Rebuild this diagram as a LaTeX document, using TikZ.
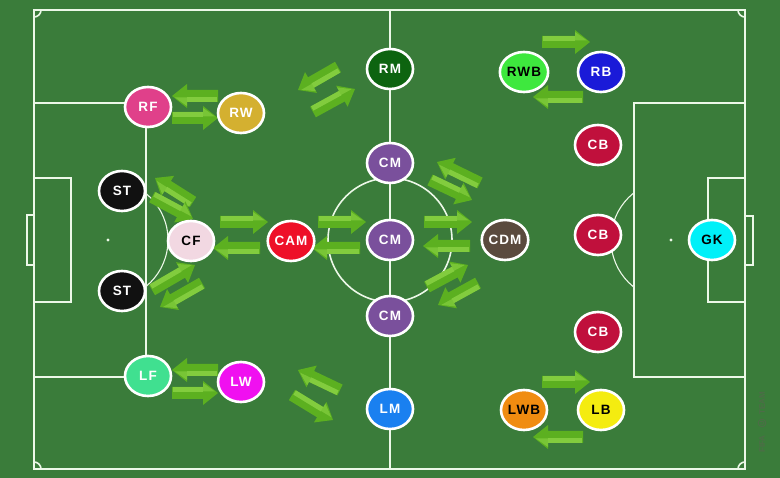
\documentclass[tikz,border=0pt]{standalone}
\usepackage{fontspec}
\setmainfont{Liberation Sans}
\newfontfamily\lblfont[LetterSpace=8]{Liberation Sans}
\usetikzlibrary{shapes.geometric}

\definecolor{pitch}{RGB}{58,124,58}
\definecolor{linec}{RGB}{236,248,232}
\definecolor{arrowgreen}{RGB}{92,176,32}
\definecolor{arrowlight}{RGB}{140,212,70}
\definecolor{wmark}{RGB}{78,108,72}
\definecolor{cRM}{RGB}{13,100,16}
\definecolor{cRWB}{RGB}{62,232,62}
\definecolor{cRB}{RGB}{26,26,216}
\definecolor{cRF}{RGB}{224,64,138}
\definecolor{cRW}{RGB}{212,176,48}
\definecolor{cCB}{RGB}{192,16,60}
\definecolor{cCM}{RGB}{122,80,156}
\definecolor{cST}{RGB}{17,17,17}
\definecolor{cCF}{RGB}{242,216,226}
\definecolor{cCAM}{RGB}{238,16,40}
\definecolor{cCDM}{RGB}{90,74,62}
\definecolor{cGK}{RGB}{0,240,248}
\definecolor{cLF}{RGB}{64,224,144}
\definecolor{cLW}{RGB}{240,16,240}
\definecolor{cLM}{RGB}{26,128,240}
\definecolor{cLWB}{RGB}{240,140,16}
\definecolor{cLB}{RGB}{244,236,16}

\tikzset{
  player/.style={ellipse, draw=white, line width=2.6pt, minimum width=46pt,
    minimum height=40pt, inner sep=0pt, text=white,
    font=\lblfont\bfseries\fontsize{13.5}{13.5}\selectfont},
  darktext/.style={text=black},
  fieldline/.style={draw=linec, line width=1.6pt},
  wmtext/.style={rotate=90, text=wmark, inner sep=0pt,
    font=\bfseries\fontsize{8}{8}\selectfont},
}

\newcommand\garrow[4]{%
  \pgfmathsetmacro\gang{atan2(-(#4-#2),#3-#1)}%
  \pgfmathsetmacro\glen{veclen(#3-#1,#4-#2)}%
  \begin{scope}[shift={(#1,#2)}, rotate=\gang]
    \fill[arrowgreen] (0,-6) -- (\glen-15,-6) -- (\glen-15,-12) -- (\glen,0)
      -- (\glen-15,12) -- (\glen-15,6) -- (0,6) -- cycle;
    \fill[arrowlight, opacity=0.8] (1,-6) -- (\glen-15,-6) -- (\glen-15,-1) -- (1,-1) -- cycle;
    \fill[arrowlight, opacity=0.6] (\glen-15,-10) -- (\glen-3,-1.5) -- (\glen-15,-1.5) -- cycle;
  \end{scope}}

\begin{document}
\begin{tikzpicture}[x=1pt,y=-1pt]
\useasboundingbox (0,0) rectangle (780,478);
\fill[pitch] (0,0) rectangle (780,478);

% field lines
\draw[fieldline] (34,10) rectangle (745,469);
\draw[fieldline] (390,10) -- (390,469);
\draw[fieldline] (390,240) circle[radius=62];
\draw[fieldline] (34,103) rectangle (146,377);
\draw[fieldline] (34,178) rectangle (71,302);
\draw[fieldline] (27,215) rectangle (34,265);
\draw[fieldline] (634,103) rectangle (745,377);
\draw[fieldline] (708,178) rectangle (745,302);
\draw[fieldline] (745,216) rectangle (753,265);
\begin{scope}
  \clip (146,0) rectangle (400,478);
  \draw[draw=linec, line width=1.1pt] (108,240) circle[radius=60];
\end{scope}
\begin{scope}
  \clip (0,0) rectangle (634,478);
  \draw[draw=linec, line width=1.1pt] (671,240) circle[radius=60];
\end{scope}
\begin{scope}
  \clip (34,10) rectangle (745,469);
  \draw[fieldline] (34,10) circle[radius=7];
  \draw[fieldline] (745,10) circle[radius=7];
  \draw[fieldline] (34,469) circle[radius=7];
  \draw[fieldline] (745,469) circle[radius=7];
\end{scope}
\fill[linec] (108,240) circle[radius=1.7];
\fill[linec] (671,240) circle[radius=1.7];
\fill[linec] (390,240) circle[radius=1.7];

% arrows
\garrow{218}{96}{172}{96}
\garrow{172}{118}{218}{118}
\garrow{218}{370}{172}{370}
\garrow{172}{393}{218}{393}
\garrow{338}{67}{298}{90}
\garrow{313}{112}{355}{89}
\garrow{340}{390}{298}{370}
\garrow{292}{395}{333}{420}
\garrow{542}{42}{590}{42}
\garrow{583}{97}{533}{97}
\garrow{542}{382}{590}{382}
\garrow{583}{437}{533}{437}
\garrow{193}{202}{155}{178}
\garrow{152}{197}{193}{219}
\garrow{152}{290}{195}{265}
\garrow{202}{283}{160}{307}
\garrow{220}{222}{268}{222}
\garrow{260}{248}{213}{248}
\garrow{318}{222}{366}{222}
\garrow{360}{248}{312}{248}
\garrow{424}{222}{472}{222}
\garrow{470}{246}{423}{246}
\garrow{480}{183}{437}{162}
\garrow{430}{180}{472}{200}
\garrow{427}{287}{468}{265}
\garrow{478}{283}{438}{305}

% players
\node[player, fill=cRM] (rm) at (390,69) {RM};
\node[player, fill=cRWB, darktext] (rwb) at (524,72) {RWB};
\node[player, fill=cRB] (rb) at (601,72) {RB};
\node[player, fill=cRF] (rf) at (148,107) {RF};
\node[player, fill=cRW] (rw) at (241,113) {RW};
\node[player, fill=cCB] (cb1) at (598,145) {CB};
\node[player, fill=cCM] (cm1) at (390,163) {CM};
\node[player, fill=cST] (st1) at (122,191) {ST};
\node[player, fill=cCF, darktext] (cf) at (191,241) {CF};
\node[player, fill=cCAM] (cam) at (291,241) {CAM};
\node[player, fill=cCM] (cm2) at (390,240) {CM};
\node[player, fill=cCDM] (cdm) at (505,240) {CDM};
\node[player, fill=cCB] (cb2) at (598,235) {CB};
\node[player, fill=cGK, darktext] (gk) at (712,240) {GK};
\node[player, fill=cST] (st2) at (122,291) {ST};
\node[player, fill=cCM] (cm3) at (390,316) {CM};
\node[player, fill=cCB] (cb3) at (598,332) {CB};
\node[player, fill=cLF] (lf) at (148,376) {LF};
\node[player, fill=cLW] (lw) at (241,382) {LW};
\node[player, fill=cLM] (lm) at (390,409) {LM};
\node[player, fill=cLWB, darktext] (lwb) at (524,410) {LWB};
\node[player, fill=cLB, darktext] (lb) at (601,410) {LB};

% watermark
\node[wmtext] (wm1) at (762,444) {FIFA};
\node[circle, draw=wmark, line width=0.8pt, inner sep=0.6pt, text=wmark,
  rotate=90, font=\bfseries\fontsize{6}{6}\selectfont] (wm2) at (762,423) {U};
\node[wmtext] (wm3) at (762,403) {TEAM};
\end{tikzpicture}
\end{document}
